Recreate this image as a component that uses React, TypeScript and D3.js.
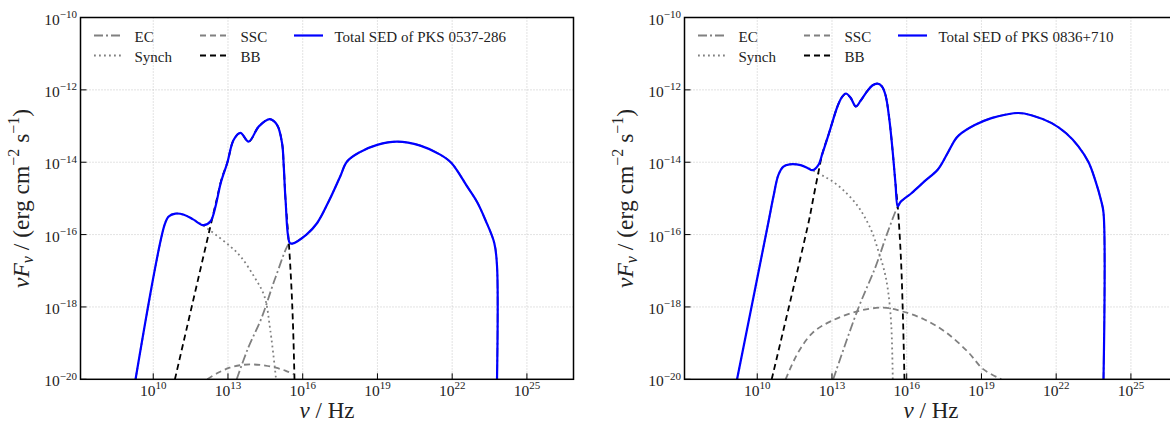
import React from "react";
import * as d3 from "d3";

type P = [number, number]; // [log10 nu, log10 nuFnu]

const X_TICK_EXP = [10, 13, 16, 19, 22, 25];
const Y_TICK_EXP = [-10, -12, -14, -16, -18, -20];
const X_DOMAIN_EXP: P = [7.08, 26.87];
const Y_DOMAIN_EXP: P = [-20, -10];

const SOURCES = ["PKS 0537-286", "PKS 0836+710"];

// ---------- PKS 0537-286 ----------
const totalA: P[] = [
  [9.29, -20], [10.46, -15.72], [10.62, -15.5], [10.89, -15.42], [11.23, -15.45], [11.6, -15.58],
  [12.02, -15.74], [12.3, -15.63], [12.5, -15.22], [12.71, -14.57], [12.97, -14.02], [13.23, -13.38],
  [13.5, -13.19], [13.83, -13.43], [14.24, -13.01], [14.68, -12.81], [14.97, -12.97], [15.17, -13.47],
  [15.24, -14.12], [15.31, -15.03], [15.48, -16.23], [15.58, -16.25], [16.15, -16.0], [16.58, -15.68],
  [17.08, -15.03], [17.5, -14.4], [17.78, -13.98], [18.3, -13.72], [18.99, -13.52], [19.79, -13.43],
  [20.72, -13.54], [21.52, -13.79], [21.97, -14.02], [22.6, -14.67], [23.0, -15.1], [23.33, -15.59],
  [23.69, -16.23], [23.8, -16.87], [23.8, -20],
];
const synchA: P[] = [
  [9.29, -20], [10.46, -15.72], [10.62, -15.5], [10.89, -15.42], [11.23, -15.45], [11.6, -15.58],
  [12.03, -15.76], [12.5, -16.0], [13.08, -16.32], [13.5, -16.6], [14.04, -17.15], [14.46, -17.7],
  [14.7, -18.65], [14.93, -20],
];
const sscA: P[] = [
  [12.17, -20], [12.6, -19.82], [13.07, -19.68], [13.5, -19.61], [13.99, -19.59], [14.5, -19.62],
  [14.92, -19.68], [15.3, -19.76], [15.64, -19.86],
];
const bbA: P[] = [
  [10.87, -20], [12.54, -15.05], [12.75, -14.45], [12.97, -14.02], [13.23, -13.38], [13.5, -13.19],
  [13.83, -13.43], [14.24, -13.01], [14.68, -12.81], [14.97, -12.97], [15.17, -13.47], [15.24, -14.12],
  [15.31, -15.03], [15.45, -16.3], [15.55, -17.5], [15.62, -18.7], [15.67, -20],
];
const ecA: P[] = [
  [13.35, -20], [13.8, -19.15], [14.35, -18.3], [14.9, -17.2], [15.48, -16.23], [15.58, -16.25],
  [16.15, -16.0], [16.58, -15.68], [17.08, -15.03], [17.5, -14.4], [17.78, -13.98], [18.3, -13.72],
  [18.99, -13.52], [19.79, -13.43], [20.72, -13.54], [21.52, -13.79], [21.97, -14.02], [22.6, -14.67],
  [23.0, -15.1], [23.33, -15.59], [23.69, -16.23], [23.8, -16.87], [23.8, -20],
];

// ---------- PKS 0836+710 ----------
const totalB: P[] = [
  [9.19, -20], [10.45, -15.65], [10.65, -14.95], [10.85, -14.35], [11.05, -14.12], [11.3, -14.06],
  [11.74, -14.08], [12.0, -14.15], [12.22, -14.22], [12.45, -14.08], [12.62, -13.75], [12.88, -13.2],
  [13.22, -12.46], [13.4, -12.2], [13.56, -12.1], [13.75, -12.22], [13.96, -12.46], [14.15, -12.3],
  [14.4, -12.05], [14.62, -11.88], [14.82, -11.83], [15.0, -11.9], [15.15, -12.15], [15.3, -12.8],
  [15.45, -13.8], [15.55, -14.6], [15.64, -15.22], [15.75, -15.1], [16.2, -14.85], [16.71, -14.53],
  [17.25, -14.2], [17.6, -13.8], [17.92, -13.4], [18.1, -13.25], [18.73, -12.97], [19.4, -12.78],
  [20.0, -12.68], [20.48, -12.64], [21.0, -12.7], [21.82, -12.92], [22.4, -13.2], [22.89, -13.56],
  [23.3, -14.0], [23.56, -14.48], [23.8, -15.05], [23.9, -15.4], [23.9, -20],
];
const synchB: P[] = [
  [9.19, -20], [10.45, -15.65], [10.65, -14.95], [10.85, -14.35], [11.05, -14.12], [11.3, -14.06],
  [11.74, -14.08], [12.0, -14.15], [12.22, -14.22], [12.6, -14.36], [13.0, -14.52], [13.5, -14.8],
  [14.0, -15.18], [14.3, -15.5], [14.62, -15.95], [14.86, -16.45], [15.1, -17.0], [15.25, -17.55],
  [15.38, -18.5], [15.44, -20],
];
const sscB: P[] = [
  [11.14, -20], [11.64, -19.26], [12.23, -18.71], [12.97, -18.39], [14.02, -18.12], [15.06, -18.02],
  [15.8, -18.12], [16.69, -18.34], [17.59, -18.71], [18.48, -19.26], [19.07, -19.72], [19.8, -20],
];
const bbB: P[] = [
  [10.58, -20], [12.08, -15.6], [12.24, -15.03], [12.45, -14.3], [12.62, -13.75], [12.88, -13.2],
  [13.22, -12.46], [13.4, -12.2], [13.56, -12.1], [13.75, -12.22], [13.96, -12.46], [14.15, -12.3],
  [14.4, -12.05], [14.62, -11.88], [14.82, -11.83], [15.0, -11.9], [15.15, -12.15], [15.3, -12.8],
  [15.45, -13.8], [15.55, -14.6], [15.64, -15.22], [15.77, -16.69], [15.85, -18.3], [15.91, -20],
];
const ecB: P[] = [
  [13.05, -20], [14.02, -18.1], [14.76, -16.87], [15.2, -16.0], [15.64, -15.22], [15.75, -15.1],
  [16.2, -14.85], [16.71, -14.53], [17.25, -14.2], [17.6, -13.8], [17.92, -13.4], [18.1, -13.25],
  [18.73, -12.97], [19.4, -12.78], [20.0, -12.68], [20.48, -12.64], [21.0, -12.7], [21.82, -12.92],
  [22.4, -13.2], [22.89, -13.56], [23.3, -14.0], [23.56, -14.48], [23.8, -15.05], [23.9, -15.4],
  [23.9, -20],
];

const FONT = "'Liberation Serif', 'Times New Roman', serif";
const TOP = 17.5;
const BOTTOM = 379.3;
const PW = 493;

const STYLES: Record<string, { stroke: string; width: number; dash?: string }> = {
  EC: { stroke: "#808080", width: 1.8, dash: "9,3,2,3" },
  Synch: { stroke: "#808080", width: 1.8, dash: "1.8,3.2" },
  SSC: { stroke: "#808080", width: 1.8, dash: "6,4" },
  BB: { stroke: "#000000", width: 1.8, dash: "6,4" },
  Total: { stroke: "#0000ff", width: 2.2 },
};

function Panel({ x0, id, source, series }: { x0: number; id: string; source: string; series: Record<string, P[]> }) {
  const xs = d3.scaleLog().domain([10 ** X_DOMAIN_EXP[0], 10 ** X_DOMAIN_EXP[1]]).range([x0, x0 + PW]);
  const ys = d3.scaleLog().domain([10 ** Y_DOMAIN_EXP[0], 10 ** Y_DOMAIN_EXP[1]]).range([BOTTOM, TOP]);
  const line = d3
    .line<P>()
    .x((d) => xs(10 ** d[0]))
    .y((d) => ys(10 ** d[1]))
    .curve(d3.curveCatmullRom.alpha(0.5));
  const order = ["EC", "Synch", "SSC", "BB", "Total"];
  const legendCols = [
    [{ k: "EC", t: "EC" }, { k: "Synch", t: "Synch" }],
    [{ k: "SSC", t: "SSC" }, { k: "BB", t: "BB" }],
    [{ k: "Total", t: `Total SED of ${source}` }],
  ];
  const colOff = [13.5, 119.5, 213.5];
  const rowY = [42.3, 62.3];
  return (
    <g>
      <defs>
        <clipPath id={id}>
          <rect x={x0} y={TOP} width={PW} height={BOTTOM - TOP} />
        </clipPath>
      </defs>
      {X_TICK_EXP.map((e) => (
        <line key={"gx" + e} x1={xs(10 ** e)} x2={xs(10 ** e)} y1={TOP} y2={BOTTOM} stroke="#b8b8b8" strokeWidth={0.8} strokeDasharray="1,2" />
      ))}
      {Y_TICK_EXP.filter((e) => e > -20 && e < -10).map((e) => (
        <line key={"gy" + e} x1={x0} x2={x0 + PW} y1={ys(10 ** e)} y2={ys(10 ** e)} stroke="#b8b8b8" strokeWidth={0.8} strokeDasharray="1,2" />
      ))}
      <g clipPath={`url(#${id})`}>
        {order.map((k) => {
          const s = STYLES[k];
          return (
            <path key={k} d={line(series[k]) || ""} fill="none" stroke={s.stroke} strokeWidth={s.width} strokeDasharray={s.dash} strokeLinejoin="round" />
          );
        })}
      </g>
      {legendCols.map((col, ci) =>
        col.map((item, ri) => {
          const s = STYLES[item.k];
          const lx = x0 + colOff[ci];
          const ly = rowY[ri];
          return (
            <g key={item.k}>
              <line x1={lx} x2={lx + 29} y1={ly - 6.8} y2={ly - 6.8} stroke={s.stroke} strokeWidth={s.width} strokeDasharray={s.dash} />
              <text x={lx + 40.5} y={ly} fontSize={15} fill="#222">{item.t}</text>
            </g>
          );
        })
      )}
      <rect x={x0} y={TOP} width={PW} height={BOTTOM - TOP} fill="none" stroke="#000" strokeWidth={1.5} />
      {X_TICK_EXP.map((e) => (
        <g key={"tx" + e}>
          <line x1={xs(10 ** e)} x2={xs(10 ** e)} y1={BOTTOM} y2={BOTTOM - 6} stroke="#000" strokeWidth={1} />
          <text x={xs(10 ** e)} y={396} textAnchor="middle" fontSize={15.5} fill="#222">
            10<tspan fontSize={11} dy={-7.5}>{String(e)}</tspan>
          </text>
        </g>
      ))}
      {Y_TICK_EXP.map((e) => (
        <g key={"ty" + e}>
          <line x1={x0} x2={x0 + 6} y1={ys(10 ** e)} y2={ys(10 ** e)} stroke="#000" strokeWidth={1} />
          <text x={x0 - 3.5} y={ys(10 ** e) + 7} textAnchor="end" fontSize={15.5} fill="#222">
            10<tspan fontSize={11} dy={-6.5}>{"\u2212" + String(-e)}</tspan>
          </text>
        </g>
      ))}
      <text x={x0 + PW / 2} y={418} textAnchor="middle" fontSize={23} fill="#222">
        <tspan fontStyle="italic">ν</tspan>
        {" / Hz"}
      </text>
      <text transform={`translate(${x0 - 52},${(TOP + BOTTOM) / 2}) rotate(-90)`} textAnchor="middle" fontSize={23.5} fill="#222">
        <tspan fontStyle="italic">νF</tspan>
        <tspan fontStyle="italic" fontSize={16} dy={4}>ν</tspan>
        <tspan dy={-4}>{" / (erg cm"}</tspan>
        <tspan fontSize={16} dy={-10}>{"\u22122"}</tspan>
        <tspan dy={10}>{" s"}</tspan>
        <tspan fontSize={16} dy={-10}>{"\u22121"}</tspan>
        <tspan dy={10}>{")"}</tspan>
      </text>
    </g>
  );
}

export default function App() {
  return (
    <svg width={1170} height={423} style={{ position: "absolute", left: 0, top: 0, background: "#fff" }} fontFamily={FONT}>
      <rect width={1170} height={423} fill="#fff" />
      <Panel x0={80.5} id="clipA" source={SOURCES[0]} series={{ EC: ecA, Synch: synchA, SSC: sscA, BB: bbA, Total: totalA }} />
      <Panel x0={684.5} id="clipB" source={SOURCES[1]} series={{ EC: ecB, Synch: synchB, SSC: sscB, BB: bbB, Total: totalB }} />
    </svg>
  );
}
